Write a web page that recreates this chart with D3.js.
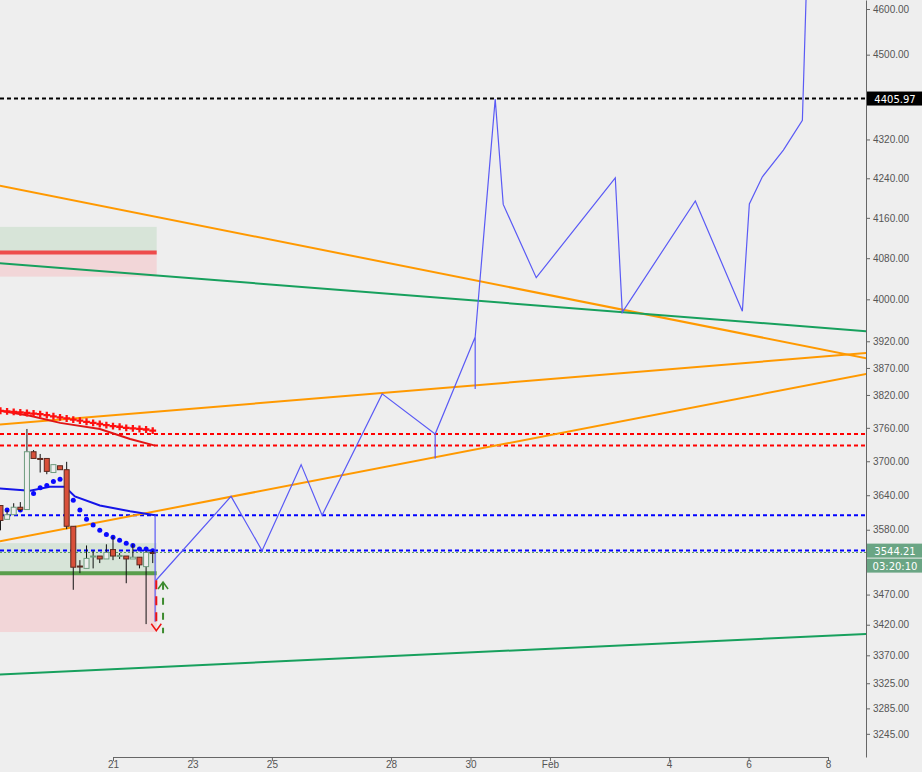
<!DOCTYPE html>
<html>
<head>
<meta charset="utf-8">
<script src="https://cdn.jsdelivr.net/npm/d3@7"></script>
<style>
  body { margin: 0; background: #eeeeee; }
  svg { display: block; font-family: "DejaVu Sans", sans-serif; }
</style>
</head>
<body>
<svg id="chart" width="922" height="772"></svg>
<script>
// days are counted from Jan 1 (Feb 1 = 32), fractional = time of day
const candleStart = 18.1667; // first 4h candle
const candleStep = 4 / 24;
const opens  = [3622,3598,3606,3619,3615,3717,3705,3705,3680,3692,3685,3586,3518,3514,3535,3535,3530,3546,3535,3535,3530,3533,3517,3541];
const highs  = [3622,3614,3626,3628,3758,3720,3713,3705,3694,3692,3699,3586,3528,3553,3544,3535,3555,3568,3540,3535,3555,3533,3544,3544];
const lows   = [3579,3598,3606,3612,3615,3705,3680,3677,3680,3685,3581,3478,3506,3514,3514,3523,3530,3528,3530,3489,3530,3514,3421,3523];
const closes = [3596,3606,3619,3615,3717,3705,3704,3682,3694,3685,3586,3516,3517,3531,3535,3530,3541,3535,3536,3530,3533,3520,3541,3540];

const blueDots = [null,3614,3614,3614,3631,3643,3653,3657,3664,3668,null,3631,3614,3598,3588,3579,3572,3567,3562,3557,3553,3547,3547,3544];
const redDots = [3791,3790,3789,3788,3787,3786,3785,3783,3781,3779,3777,3775,3773,3771,3769,3767,3765,3763,3762,3760,3759,3758,3757,3755];

const blueMaDays = [18.15,18.91,19.41,19.79,20.04,20.67,21.43,22.06];
const blueMaVals = [3652,3648,3655,3655,3638,3622,3612,3605];
const redMaDays = [18.15,18.91,19.67,20.67,21.43,22.06];
const redMaVals = [3791,3782,3769,3758,3740,3728];

const projDays = [22.083,23.972,24.753,25.736,26.264,27.776,29.111,29.111,29.111,30.118,30.118,30.118,30.622,30.824,31.655,33.645,33.821,35.66,36.844,37.02,37.348,37.877,38.355,38.45];
const projVals = [3494,3638,3544,3694,3605,3822,3749,3705,3749,3928,3831,3928,4405,4187,4042,4241,3975,4194,3977,4188,4243,4298,4360,4630];

// trend lines: [day0, price0, day1, price1, colour]
const trendLines = [
  [18.154, 4225, 39.97, 3888, "#ff9900"],
  [18.154, 3766, 39.97, 3898, "#ff9900"],
  [18.154, 3560, 39.97, 3859, "#ff9900"],
  [18.154, 4070, 39.97, 3939, "#17a05d"],
  [18.154, 3339, 39.97, 3405, "#17a05d"]
];
const hLevels = [4405.97, 3749, 3728, 3605, 3544.21];
const hColors = ["#000000", "#ff0000", "#ff0000", "#0000ff", "#0000ff"];

const yTicks = [4600,4500,4320,4240,4160,4080,4000,3920,3870,3820,3760,3700,3640,3580,3470,3420,3370,3325,3285,3245];
const xTickDays = [21,23,25,28,30,32,35,37,39];
const xTickLabels = ["21","23","25","28","30","Feb","4","6","8"];

const day = d => new Date(Date.UTC(2022, 0, 1) + (d - 1) * 864e5);

const W = 866, H = 757;
const svg = d3.select("#chart");
const x = d3.scaleUtc().domain([day(21), day(39)]).range([113, 828]);
const y = d3.scaleLog().domain([3209, 4620]).range([H, 0]);

svg.append("defs").append("clipPath").attr("id", "plot")
  .append("rect").attr("width", W).attr("height", H);
const g = svg.append("g").attr("clip-path", "url(#plot)");

// zones
function zone(top, mid, bottom, lineColor) {
  const x0 = 0, x1 = x(day(22.1));
  g.append("rect").attr("x", x0).attr("y", y(top)).attr("width", x1 - x0)
    .attr("height", y(mid) - y(top)).attr("fill", "#d7e4d8");
  g.append("rect").attr("x", x0).attr("y", y(mid)).attr("width", x1 - x0)
    .attr("height", y(bottom) - y(mid)).attr("fill", "#f2d6d8");
  g.append("line").attr("x1", x0).attr("x2", x1).attr("y1", y(mid)).attr("y2", y(mid))
    .attr("stroke", lineColor).attr("stroke-width", 4);
}
zone(4142, 4091, 4044, "#ee4b4b");
zone(3557, 3506, 3408, "#5a9e4b");

// horizontal levels
g.append("line").attr("x1", 0).attr("x2", W).attr("y1", y(3541)).attr("y2", y(3541))
  .attr("stroke", "#5fa35f").attr("stroke-dasharray", "2,2").attr("stroke-width", 1);
hLevels.forEach((v, i) => {
  g.append("line").attr("x1", 0).attr("x2", W).attr("y1", y(v)).attr("y2", y(v))
    .attr("stroke", hColors[i]).attr("stroke-width", 2).attr("stroke-dasharray", "4,3");
});

// trend lines
trendLines.forEach(t => {
  g.append("line").attr("x1", x(day(t[0]))).attr("y1", y(t[1]))
    .attr("x2", x(day(t[2]))).attr("y2", y(t[3]))
    .attr("stroke", t[4]).attr("stroke-width", 2);
});

// moving averages
const line = d3.line().x(d => x(day(d[0]))).y(d => y(d[1]));
g.append("path").datum(blueMaDays.map((d, i) => [d, blueMaVals[i]]))
  .attr("d", line).attr("fill", "none").attr("stroke", "#1515e8").attr("stroke-width", 2);
g.append("path").datum(redMaDays.map((d, i) => [d, redMaVals[i]]))
  .attr("d", line).attr("fill", "none").attr("stroke", "#e01515").attr("stroke-width", 2);

const cx = i => x(day(candleStart + i * candleStep));

redDots.forEach((d, i) => {
  g.append("path").attr("transform", `translate(${cx(i)},${y(d)})`)
    .attr("d", d3.symbol(d3.symbolCross, 26)).attr("fill", "#ff1010");
});
blueDots.forEach((d, i) => {
  if (d === null) return;
  g.append("circle").attr("cx", cx(i)).attr("cy", y(d)).attr("r", 2.5).attr("fill", "#0a0aff");
});

// candles
opens.forEach((o, i) => {
  const c = closes[i], up = c >= o;
  g.append("line").attr("x1", cx(i)).attr("x2", cx(i)).attr("y1", y(highs[i])).attr("y2", y(lows[i]))
    .attr("stroke", "#111").attr("stroke-width", 1);
  const top = y(Math.max(o, c)), bot = y(Math.min(o, c));
  g.append("rect").attr("x", cx(i) - 2.5).attr("y", top).attr("width", 5)
    .attr("height", Math.max(1, bot - top))
    .attr("fill", up ? "#eeeeee" : "#d9503a")
    .attr("stroke", up ? "#6e9c7e" : "#5a2a20").attr("stroke-width", 1);
});

// projection
g.append("line").attr("x1", x(day(22.06))).attr("x2", x(day(22.06)))
  .attr("y1", y(3605)).attr("y2", y(3425)).attr("stroke", "#5a5af5").attr("stroke-width", 1.2);
g.append("path").datum(projDays.map((d, i) => [d, projVals[i]]))
  .attr("d", line).attr("fill", "none").attr("stroke", "#5a5af5").attr("stroke-width", 1.2);

// arrows
const ax = x(day(22.09)), ax2 = x(day(22.26));
g.append("line").attr("x1", ax).attr("x2", ax).attr("y1", y(3494)).attr("y2", y(3418))
  .attr("stroke", "#ee1111").attr("stroke-width", 2).attr("stroke-dasharray", "9,7");
g.append("path").attr("d", `M${ax - 5},${y(3410) - 7}L${ax},${y(3410)}L${ax + 5},${y(3410) - 7}`)
  .attr("fill", "none").attr("stroke", "#ee1111").attr("stroke-width", 1.5);
g.append("line").attr("x1", ax2).attr("x2", ax2).attr("y1", y(3490)).attr("y2", y(3406))
  .attr("stroke", "#3c8a2e").attr("stroke-width", 2).attr("stroke-dasharray", "7,8");
g.append("path").attr("d", `M${ax2 - 5},${y(3491) + 7}L${ax2},${y(3491)}L${ax2 + 5},${y(3491) + 7}`)
  .attr("fill", "none").attr("stroke", "#3c8a2e").attr("stroke-width", 1.5);

// axes
const yAxis = d3.axisRight(y).tickValues(yTicks).tickFormat(d3.format(".2f")).tickSize(4).tickSizeOuter(0);
const ya = svg.append("g").attr("transform", `translate(${W},0)`).call(yAxis);
const xAxis = d3.axisBottom(x).tickValues(xTickDays.map(day))
  .tickFormat((d, i) => xTickLabels[i]).tickSize(4).tickSizeOuter(0);
const xa = svg.append("g").attr("transform", `translate(0,${H})`).call(xAxis);
[ya, xa].forEach(a => {
  a.select(".domain").attr("stroke", "#666");
  a.selectAll(".tick line").attr("stroke", "#666");
  a.selectAll("text").attr("fill", "#555").attr("font-size", 10);
});
ya.selectAll("text").attr("x", 7);
xa.selectAll("text").attr("y", 4);

// price labels
function tag(v, txt, fill, yy) {
  const ty = yy !== undefined ? yy : y(v);
  svg.append("rect").attr("x", W + 1).attr("y", ty - 7).attr("width", 56).attr("height", 14).attr("fill", fill);
  svg.append("text").attr("x", W + 29).attr("y", ty + 4).attr("text-anchor", "middle")
    .attr("fill", "#fff").attr("font-size", 10).text(txt);
}
tag(4405.97, "4405.97", "#000");
tag(3544.21, "3544.21", "#6aa584");
tag(null, "03:20:10", "#6aa584", y(3544.21) + 15);
</script>
</body>
</html>
